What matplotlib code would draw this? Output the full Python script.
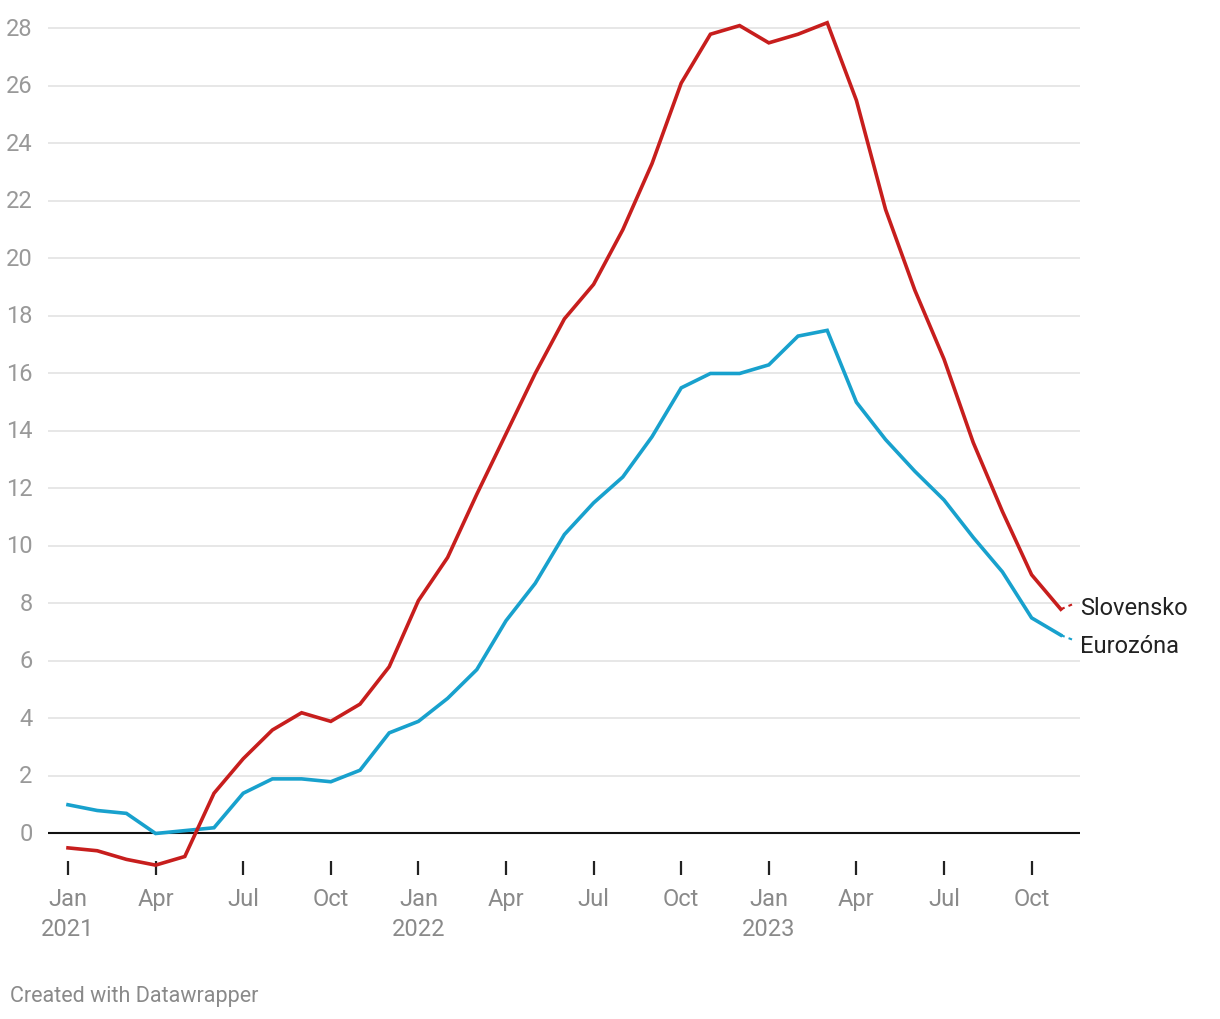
import numpy as np
import matplotlib.pyplot as plt

plt.rcParams['font.family'] = ['Roboto', 'DejaVu Sans']

# mesacne hodnoty, jan 2021 - nov 2023
slovensko = [-0.5, -0.6, -0.9, -1.1, -0.8, 1.4, 2.6, 3.6, 4.2, 3.9, 4.5, 5.8,
             8.1, 9.6, 11.8, 13.9, 16.0, 17.9, 19.1, 21.0, 23.3, 26.1, 27.8, 28.1,
             27.5, 27.8, 28.2, 25.5, 21.7, 18.9, 16.5, 13.6, 11.2, 9.0, 7.8]
eurozona = [1.0, 0.8, 0.7, 0.0, 0.1, 0.2, 1.4, 1.9, 1.9, 1.8, 2.2, 3.5,
            3.9, 4.7, 5.7, 7.4, 8.7, 10.4, 11.5, 12.4, 13.8, 15.5, 16.0, 16.0,
            16.3, 17.3, 17.5, 15.0, 13.7, 12.6, 11.6, 10.3, 9.1, 7.5, 6.9]
tick_pos = [0, 3, 6, 9, 12, 15, 18, 21, 24, 27, 30, 33]
tick_labels = ['Jan\n2021', 'Apr', 'Jul', 'Oct', 'Jan\n2022', 'Apr', 'Jul', 'Oct',
               'Jan\n2023', 'Apr', 'Jul', 'Oct']
y_ticks = list(range(0, 29, 2))

cerv = '#c71e1d'
modra = '#18a1cd'
seda = '#8a8a8a'

fig = plt.figure(figsize=(12.2, 10.2), dpi=100)
ax = fig.add_axes([48 / 1220, (1020 - 875.5) / 1020, (1080 - 48) / 1220, 860.4 / 1020])

x = np.arange(len(slovensko))
ax.plot(x, eurozona, color=modra, lw=2.6, solid_joinstyle='miter', zorder=3)
ax.plot(x, slovensko, color=cerv, lw=2.6, solid_joinstyle='miter', zorder=4)

ax.set_xlim(-20 / 29.2, (1080 - 68) / 29.2)
ax.set_ylim(-(873 - 832) / 28.75, 28.5)

for yv in y_ticks:
    if yv == 0:
        ax.axhline(0, color='#111111', lw=1.5, zorder=2)
    else:
        ax.axhline(yv, color='#e3e3e3', lw=1.2, zorder=1)

ax.set_yticks(y_ticks)
ax.set_yticklabels([str(v) for v in y_ticks])
ax.set_xticks(tick_pos)
ax.set_xticklabels(tick_labels, linespacing=1.4)
ax.tick_params(axis='y', length=0, pad=11, labelsize=17, labelcolor='#999999')
ax.tick_params(axis='x', direction='in', length=10, width=1.6, color='#222222',
               pad=9, labelsize=17, labelcolor=seda)
for lbl in ax.get_yticklabels():
    lbl.set_verticalalignment('center')
for sp in ax.spines.values():
    sp.set_visible(False)

# popisky na konci ciar
lab_x = (1080 - 68) / 29.2
end_x = (1072 - 68) / 29.2
sk_y = (832 - 606) / 28.75
ez_y = (832 - 644) / 28.75
ax.plot([34, end_x], [slovensko[-1], (832 - 603) / 28.75], color=cerv, lw=1.5,
        ls=(0, (2, 2)), clip_on=False)
ax.plot([34, end_x], [eurozona[-1], (832 - 638) / 28.75], color=modra, lw=1.5,
        ls=(0, (2, 2)), clip_on=False)
ax.text(lab_x, sk_y, 'Slovensko', fontsize=17, color='#222222', va='center',
        ha='left', clip_on=False)
ax.text(lab_x, ez_y, 'Eurozóna', fontsize=17, color='#222222', va='center',
        ha='left', clip_on=False)

fig.text(10 / 1220, 1 - 997 / 1020, 'Created with Datawrapper', fontsize=15.5,
         color=seda, va='center', ha='left')

fig.savefig('out.png', dpi=100)
